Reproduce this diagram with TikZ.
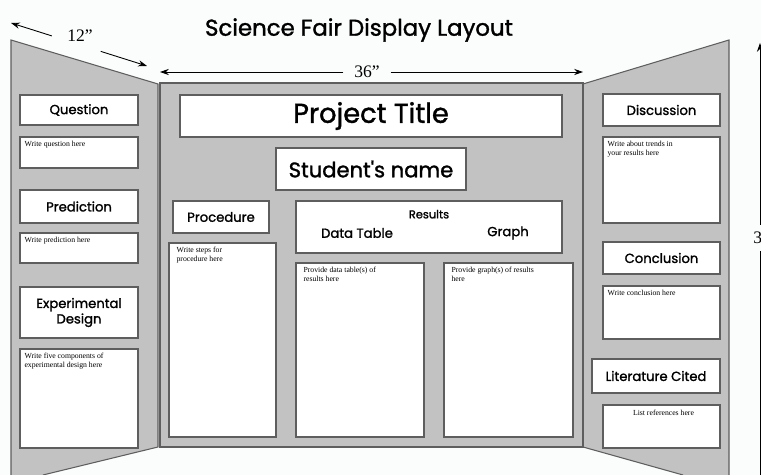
\documentclass[tikz,border=0pt]{standalone}
\usepackage{fontspec}
\setmainfont{Liberation Serif}
\newfontfamily\boardfont{Poppins}[FakeBold=1.4]
\usetikzlibrary{calc, fit, positioning, arrows.meta}
\definecolor{board}{HTML}{C2C2C2}
\definecolor{edge}{HTML}{5E5E5E}
\definecolor{paper}{HTML}{FBFCFC}

\begin{document}
\begin{tikzpicture}[x=0.02cm, y=-0.02cm,
    box/.style={draw=edge, line width=0.9pt, fill=white, inner sep=0pt},
    head/.style={font=\boardfont\fontsize{7.5}{8.8}\selectfont, align=center, inner sep=0pt},
    note/.style={anchor=north west, inner sep=0pt, align=left, font=\fontsize{4.4}{5}\selectfont},
    dim/.style={-{Stealth[length=5pt,width=3.5pt]}, line width=0.5pt},
    size/.style={font=\fontsize{10}{12}\selectfont, inner sep=1pt}]
    \useasboundingbox[fill=paper] (0,0) rectangle (761,475);
    % the three panels of the board
    \fill[board] (11,40) -- (158,84) -- (158,447) -- (43,475) -- (11,475) -- cycle;
    \draw[edge, line width=0.6pt] (11,475) -- (11,40) -- (158,84) -- (158,447) -- (43,475);
    \fill[board] (583,84) -- (729,40) -- (729,475) -- (683,475) -- (583,447) -- cycle;
    \draw[edge, line width=0.6pt] (583,84) -- (729,40) -- (729,475);
    \draw[edge, line width=0.6pt] (583,447) -- (683,475);
    \fill[board] (160,83) rectangle (583,447);
    \draw[edge, line width=1pt] (160,83) rectangle (583,447);

    \node (title) [head, font=\boardfont\fontsize{13}{15}\selectfont] at (359,30) {Science Fair Display Layout};

    % measures
    \node (side) [size] at (80,36) {12''};
    \coordinate (side a) at (11,23);
    \coordinate (side b) at (147,66);
    \draw[dim] ($(side a)!0.3!(side b)$) -- (side a);
    \draw[dim] ($(side a)!0.66!(side b)$) -- (side b);
    \node (width) [size] at (367,72) {36''};
    \coordinate (width a) at (160,72);
    \coordinate (width b) at (583,72);
    \draw[dim, shorten <=5pt] (width.west) -- (width a);
    \draw[dim, shorten <=5pt] (width.east) -- (width b);
    \node (height) [size, anchor=west, inner sep=0pt] at (753,238) {3};
    \coordinate (height a) at (760,43);
    \coordinate (height b) at (760,475);
    \draw[dim, shorten <=4pt] (height.north -| height a) -- (height a);
    \draw[line width=0.5pt, shorten <=4pt] (height.south -| height b) -- (height b);

    % left panel
    \foreach \name/\ya/\yb/\txt in {question/95/125/Question, prediction/190/223/Prediction,
        design/287/338/{Experimental\\Design}} {
        \node[box, fit={(20,\ya)(138,\yb)}] (\name) {};
        \node[head] (\name\space label) at (\name.center) {\txt};
    }
    \foreach \name/\ya/\yb/\txt in {question note/137/168/{Write question here},
        prediction note/233/263/{Write prediction here},
        design note/349/448/{Write five components of\\experimental design here}} {
        \node[box, fit={(20,\ya)(138,\yb)}] (\name) {};
        \node[note] (\name\space text) at ($(\name.north west)+(5,5)$) {\txt};
    }

    % right panel
    \foreach \name/\xa/\ya/\yb/\txt in {discussion/603/94/126/Discussion, conclusion/603/242/274/Conclusion,
        literature/592/359/393/Literature Cited} {
        \node[box, fit={(\xa,\ya)(720,\yb)}] (\name) {};
        \node[head] (\name\space label) at (\name.center) {\txt};
    }
    \foreach \name/\ya/\yb/\txt in {discussion note/137/223/{Write about trends in\\your results here},
        conclusion note/286/339/{Write conclusion here}} {
        \node[box, fit={(603,\ya)(720,\yb)}] (\name) {};
        \node[note] (\name\space text) at ($(\name.north west)+(5,5)$) {\txt};
    }
    \node[box, fit={(603,405)(720,448)}] (literature note) {};
    \node[note, anchor=north] (literature note text) at ($(literature note.north)+(2,5)$) {List references here};

    % center panel
    \node[box, fit={(180,95)(562,137)}] (project) {};
    \node[head, font=\boardfont\fontsize{15.5}{18}\selectfont] (project label) at (project.center) {Project Title};
    \node[box, fit={(276,148)(466,190)}] (student) {};
    \node[head, font=\boardfont\fontsize{12}{14}\selectfont] (student label) at (student.center) {Student's name};
    \node[box, fit={(173,201)(269,233)}] (procedure) {};
    \node[head] (procedure label) at (procedure.center) {Procedure};
    \node[box, fit={(296,201)(562,253)}] (results) {};
    \node[head, font=\boardfont\fontsize{6.5}{7.5}\selectfont] (results label) at ($(results.north)+(0,14)$) {Results};
    \node[head] (table label) at (357,233) {Data Table};
    \node[head] (graph label) at (508,233) {Graph};
    \foreach \name/\xa/\ya/\xb/\txt in {procedure note/169/243/276/{Write steps for\\procedure here},
        table note/296/263/424/{Provide data table(s) of\\results here},
        graph note/444/263/573/{Provide graph(s) of results\\here}} {
        \node[box, fit={(\xa,\ya)(\xb,437)}] (\name) {};
        \node[note] (\name\space text) at ($(\name.north west)+(8,5)$) {\txt};
    }
\end{tikzpicture}
\end{document}
